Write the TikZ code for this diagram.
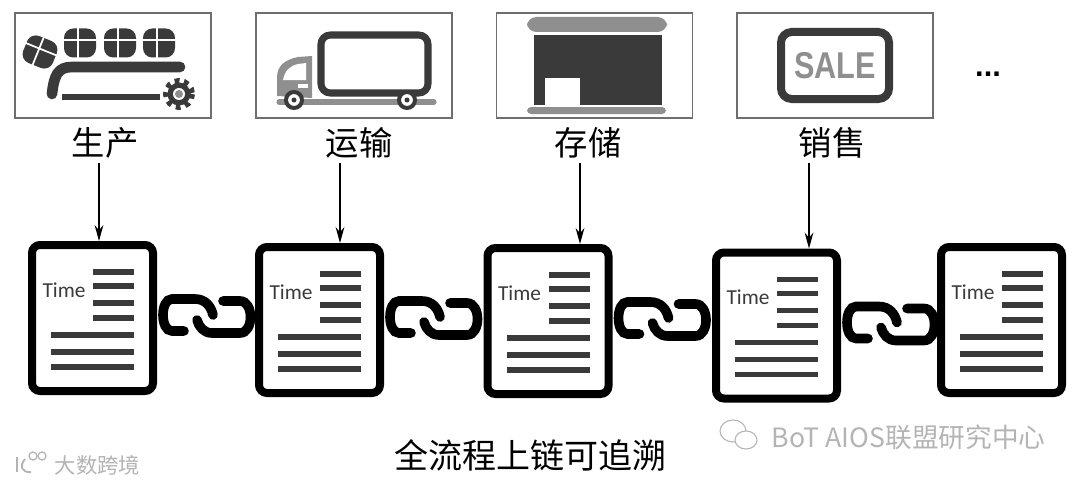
\documentclass[tikz,border=0pt]{standalone}
\usepackage{fontspec}
\setmainfont{Liberation Sans}
\newfontfamily\cjk{Noto Sans CJK SC}
\newfontfamily\timefont{Carlito}
\usetikzlibrary{arrows.meta,positioning,calc}
\definecolor{ink}{HTML}{3A3A3A}
\definecolor{midgray}{HTML}{8F8F8F}
\definecolor{framegray}{HTML}{6E6E6E}
\definecolor{markgray}{HTML}{B4B4B4}
\tikzset{panel/.style={draw=framegray,line width=.9pt,minimum width=147pt,minimum height=78.75pt},stage/.style={font=\cjk\fontsize{25}{26}\selectfont},sheet/.style={draw=black,fill=white,line width=6pt,rounded corners=6pt,minimum width=90.75pt,minimum height=109.5pt},flow/.style={-{Stealth[length=4.2mm,width=2.3mm]},line width=.8pt,draw=black},textline/.style={draw=ink,line width=4pt},chainlink/.style={draw=black,line width=7.2pt,line cap=round},belt/.style={draw=ink,line cap=round},wmark/.style={font=\cjk\fontsize{20}{22}\selectfont,text=markgray}}
% one page of the ledger: lines and the Time stamp
\newcommand{\sheetlines}[1]{
\begin{scope}[shift={(#1.center)}]
\node[font=\timefont\fontsize{16}{17}\selectfont,text=ink] (#1time) at (-28.5,-28) {Time};
\draw[textline] (.5,-46)--(41.5,-46);\draw[textline] (.5,-32)--(41.5,-32);
\draw[textline] (.5,-15)--(41.5,-15);\draw[textline] (.5,0)--(41.5,0);
\draw[textline] (-41.5,17)--(41.5,17);\draw[textline] (-41.5,34)--(41.5,34);\draw[textline] (-41.5,49)--(41.5,49);
\end{scope}}
% two interlocked links, starting at the east side of a page
\newcommand{\chainfrom}[1]{
\begin{scope}[shift={(#1.east)}]
\draw[chainlink] (27,13)--(15,13) .. controls (3,13) and (3,-19) .. (15,-19)--(38,-19) .. controls (48,-19) and (54,-12) .. (56,-3);
\draw[chainlink] (66,-17)--(83,-17) .. controls (97,-17) and (97,15) .. (83,15)--(55,15) .. controls (47,15) and (42,9) .. (40,2);
\end{scope}}
\newcommand{\parcel}[3]{
\begin{scope}[shift={(#1,#2)},rotate=#3]
\fill[ink,rounded corners=7pt] (-16,-14.5) rectangle (16,14.5);
\draw[white,line width=1.3pt] (-2,-15)--(-2,15);\draw[white,line width=1.3pt] (-17,-3)--(17,-3);
\end{scope}}
\begin{document}
\begin{tikzpicture}[x=.75pt,y=-.75pt]
\useasboundingbox (0,0) rectangle (1080,485);
\node[panel] (panel1) at (113,65.5) {};
\node[panel] (panel2) at (354,65.5) {};
\node[panel] (panel3) at (594.5,65.5) {};
\node[panel] (panel4) at (835,65.5) {};
\node[stage] (stage1) at (105,143) {生产};
\node[stage] (stage2) at (359,143) {运输};
\node[stage] (stage3) at (588,143) {存储};
\node[stage] (stage4) at (832,143) {销售};
\node[font=\bfseries\fontsize{23}{24}\selectfont] (more) at (988,74) {...};
\node[sheet] (page1) at (92.5,318) {};
\node[sheet] (page2) at (319.5,320) {};
\node[sheet] (page3) at (548,321) {};
\node[sheet] (page4) at (776.5,325.5) {};
\node[sheet] (page5) at (1001.5,320) {};
\sheetlines{page1}\sheetlines{page2}\sheetlines{page3}\sheetlines{page4}\sheetlines{page5}
\chainfrom{page1}\chainfrom{page2}\chainfrom{page3}\chainfrom{page4}
\coordinate (feed1) at (99,163);\coordinate (feed2) at (340,163);\coordinate (feed3) at (580,163);\coordinate (feed4) at (809,163);
\draw[flow] (feed1)--(feed1 |- page1.north);
\draw[flow] (feed2)--(feed2 |- page2.north);
\draw[flow] (feed3)--(feed3 |- page3.north);
\draw[flow] (feed4)--(feed4 |- page4.north);
\node[font=\cjk\fontsize{25.5}{27}\selectfont] (caption) at (530,455) {全流程上链可追溯};
% production icon
\parcel{40}{52}{-22}\parcel{80}{43}{0}\parcel{120}{43}{0}\parcel{159}{43}{0}
\draw[belt,line width=8pt] (52,94) .. controls (54,75) and (58,67) .. (72,67)--(180,67);
\draw[ink,line width=4.4pt] (62,97)--(160,97);
\fill[ink] (179,94) circle (11.5);
\draw[ink,line width=4.5pt,dash pattern=on 3.5pt off 3.57pt] (179,94) circle (13);
\fill[white] (179,94) circle (6);\fill[midgray] (179,94) circle (4);
% truck icon
\draw[midgray,line width=3.8pt,line cap=round] (279,102)--(434,102);
\draw[ink,line width=5.3pt,rounded corners=7pt] (321,35) rectangle (428,93);
\fill[midgray] (312,56)--(298,57) .. controls (284,60) and (277,66) .. (277,78)--(277,96)--(312,98)--cycle;
\fill[white] (306,63)--(298,64) .. controls (290,66) and (285,70) .. (283,80)--(306,80)--cycle;
\fill[white] (298,84) rectangle (308,88);
\draw[ink,line width=3pt,fill=white] (294,100) circle (8);\fill[ink] (294,100) circle (2.5);
\draw[ink,line width=3pt,fill=white] (407,100) circle (8);\fill[ink] (407,100) circle (2.5);
% store icon
\fill[midgray,rounded corners=7pt] (527,17) rectangle (667,32);
\fill[ink] (534,35) rectangle (662,105);
\fill[white] (545,78) rectangle (580,105);
\fill[midgray,rounded corners=3pt] (527,107) rectangle (666,114);
% sale icon
\draw[ink,line width=6pt,rounded corners=8pt] (781,32) rectangle (889,99);
\node[font=\bfseries\fontsize{28}{30}\selectfont,text=midgray,xscale=.82] (saletext) at (835,66) {SALE};
% watermarks
\draw[markgray,line width=.8pt] (733,431) ellipse (13 and 11);
\draw[markgray,line width=.8pt,fill=white] (746,440) ellipse (11 and 9);
\node[wmark,anchor=west] (markright) at (767,437) {BoT AIOS联盟研究中心};
\draw[markgray,line width=1.4pt] (17,457)--(17,472);\draw[markgray,line width=1.4pt] (25,459) .. controls (19,466) and (22,473) .. (31,472);
\draw[markgray,line width=1pt] (33,456) circle (4);\draw[markgray,line width=1pt] (42,456) circle (4);
\node[wmark,anchor=west,font=\cjk\fontsize{16}{18}\selectfont] (markleft) at (50,465) {大数跨境};
\end{tikzpicture}
\end{document}
